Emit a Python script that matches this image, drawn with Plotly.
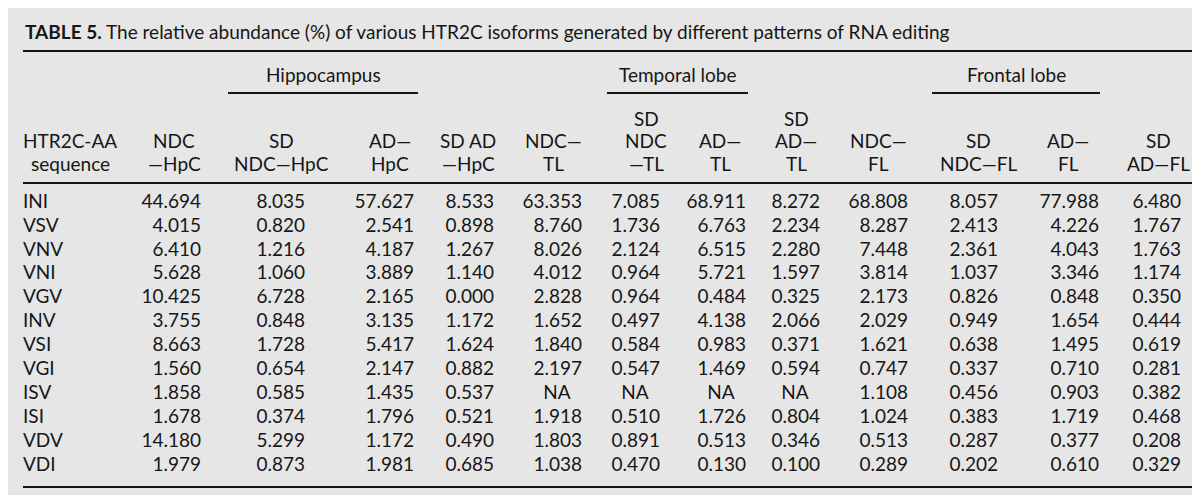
import plotly.graph_objects as go

# ---------------- data ----------------
title_bold = "TABLE 5."
title_text = "The relative abundance (%) of various HTR2C isoforms generated by different patterns of RNA editing"

isoforms = ["INI", "VSV", "VNV", "VNI", "VGV", "INV", "VSI", "VGI", "ISV", "ISI", "VDV", "VDI"]

label_header = ["HTR2C-AA", "sequence"]
column_headers = [
    ["NDC", "—HpC"],
    ["SD", "NDC—HpC"],
    ["AD—", "HpC"],
    ["SD AD", "—HpC"],
    ["NDC—", "TL"],
    ["SD", "NDC", "—TL"],
    ["AD—", "TL"],
    ["SD", "AD—", "TL"],
    ["NDC—", "FL"],
    ["SD", "NDC—FL"],
    ["AD—", "FL"],
    ["SD", "AD—FL"],
]
group_headers = ["Hippocampus", "Temporal lobe", "Frontal lobe"]

NA = None
ndc_hpc    = [44.694, 4.015, 6.410, 5.628, 10.425, 3.755, 8.663, 1.560, 1.858, 1.678, 14.180, 1.979]
sd_ndc_hpc = [8.035, 0.820, 1.216, 1.060, 6.728, 0.848, 1.728, 0.654, 0.585, 0.374, 5.299, 0.873]
ad_hpc     = [57.627, 2.541, 4.187, 3.889, 2.165, 3.135, 5.417, 2.147, 1.435, 1.796, 1.172, 1.981]
sd_ad_hpc  = [8.533, 0.898, 1.267, 1.140, 0.000, 1.172, 1.624, 0.882, 0.537, 0.521, 0.490, 0.685]
ndc_tl     = [63.353, 8.760, 8.026, 4.012, 2.828, 1.652, 1.840, 2.197, NA, 1.918, 1.803, 1.038]
sd_ndc_tl  = [7.085, 1.736, 2.124, 0.964, 0.964, 0.497, 0.584, 0.547, NA, 0.510, 0.891, 0.470]
ad_tl      = [68.911, 6.763, 6.515, 5.721, 0.484, 4.138, 0.983, 1.469, NA, 1.726, 0.513, 0.130]
sd_ad_tl   = [8.272, 2.234, 2.280, 1.597, 0.325, 2.066, 0.371, 0.594, NA, 0.804, 0.346, 0.100]
ndc_fl     = [68.808, 8.287, 7.448, 3.814, 2.173, 2.029, 1.621, 0.747, 1.108, 1.024, 0.513, 0.289]
sd_ndc_fl  = [8.057, 2.413, 2.361, 1.037, 0.826, 0.949, 0.638, 0.337, 0.456, 0.383, 0.287, 0.202]
ad_fl      = [77.988, 4.226, 4.043, 3.346, 0.848, 1.654, 1.495, 0.710, 0.903, 1.719, 0.377, 0.610]
sd_ad_fl   = [6.480, 1.767, 1.763, 1.174, 0.350, 0.444, 0.619, 0.281, 0.382, 0.468, 0.208, 0.329]

columns = [ndc_hpc, sd_ndc_hpc, ad_hpc, sd_ad_hpc, ndc_tl, sd_ndc_tl,
           ad_tl, sd_ad_tl, ndc_fl, sd_ndc_fl, ad_fl, sd_ad_fl]

# ---------------- layout (positions / styles) ----------------
W, H = 1200, 495
BG = "#e6e6e6"
INK = "#161616"
FONT = "Lato"
FS = 19

left_x = 15
right_x = 1185
col_right = [193, 297, 406, 486, 574, 652, 738, 812, 900, 990, 1091, 1173]
col_head_center = [166, 273, 382, 460, 545, 638, 712, 788, 870, 970, 1060, 1150]
na_width = 50
label_head_center = 62

group_center = [315, 669, 1008]
group_line = [(220, 410), (599, 740), (924, 1092)]

y_title = 23
y_top_rule = 43
y_group = 66
y_group_line = 85
y_head_lines = [110, 132, 155]  # 3 header lines, bottom aligned
y_head_rule = 175
y_first_row = 195
row_step = 23.9
y_bottom_rule = 479

row_y = [y_first_row + i * row_step for i in range(len(isoforms))]

fig = go.Figure()

# row labels
fig.add_trace(go.Scatter(
    x=[left_x] * len(isoforms), y=row_y, text=isoforms, mode="text",
    textposition="middle right", textfont=dict(family=FONT, size=FS, color=INK),
    hoverinfo="skip", showlegend=False))

# numeric cells
for ci, col in enumerate(columns):
    xs, ys, ts = [], [], []
    nx, ny = [], []
    for ri, v in enumerate(col):
        if v is None:
            nx.append(col_right[ci] - na_width / 2)
            ny.append(row_y[ri])
        else:
            xs.append(col_right[ci])
            ys.append(row_y[ri])
            ts.append(f"{v:.3f}")
    fig.add_trace(go.Scatter(
        x=xs, y=ys, text=ts, mode="text", textposition="middle left",
        textfont=dict(family=FONT, size=FS, color=INK),
        hoverinfo="skip", showlegend=False))
    if nx:
        fig.add_trace(go.Scatter(
            x=nx, y=ny, text=["NA"] * len(nx), mode="text", textposition="middle center",
            textfont=dict(family=FONT, size=FS, color=INK),
            hoverinfo="skip", showlegend=False))

annotations = []
# title
annotations.append(dict(
    x=left_x, y=y_title, xref="x", yref="y", xanchor="left", yanchor="middle",
    text=f"<b>{title_bold}</b> {title_text}", showarrow=False,
    font=dict(family=FONT, size=FS, color=INK)))

# label header
for k, line in enumerate(label_header):
    yy = y_head_lines[3 - len(label_header) + k]
    annotations.append(dict(x=label_head_center, y=yy, xref="x", yref="y",
                            xanchor="center", yanchor="middle", text=line, showarrow=False,
                            font=dict(family=FONT, size=FS, color=INK)))

# column headers
for ci, lines in enumerate(column_headers):
    for k, line in enumerate(lines):
        yy = y_head_lines[3 - len(lines) + k]
        annotations.append(dict(x=col_head_center[ci], y=yy, xref="x", yref="y",
                                xanchor="center", yanchor="middle", text=line, showarrow=False,
                                font=dict(family=FONT, size=FS, color=INK)))

# group headers
for gi, g in enumerate(group_headers):
    annotations.append(dict(x=group_center[gi], y=y_group, xref="x", yref="y",
                            xanchor="center", yanchor="middle", text=g, showarrow=False,
                            font=dict(family=FONT, size=FS, color=INK)))

shapes = []
for yy in (y_top_rule, y_head_rule, y_bottom_rule):
    shapes.append(dict(type="line", xref="x", yref="y", x0=left_x, x1=right_x, y0=yy, y1=yy,
                       line=dict(color=INK, width=2)))
for (a, b) in group_line:
    shapes.append(dict(type="line", xref="x", yref="y", x0=a, x1=b, y0=y_group_line, y1=y_group_line,
                       line=dict(color=INK, width=2)))

fig.update_layout(
    width=W, height=H, margin=dict(l=0, r=0, t=0, b=0),
    paper_bgcolor=BG, plot_bgcolor=BG,
    xaxis=dict(range=[0, W], visible=False, fixedrange=True),
    yaxis=dict(range=[H, 0], visible=False, fixedrange=True),
    annotations=annotations, shapes=shapes, showlegend=False,
)

fig.write_html("out.html", config={"displayModeBar": False})
